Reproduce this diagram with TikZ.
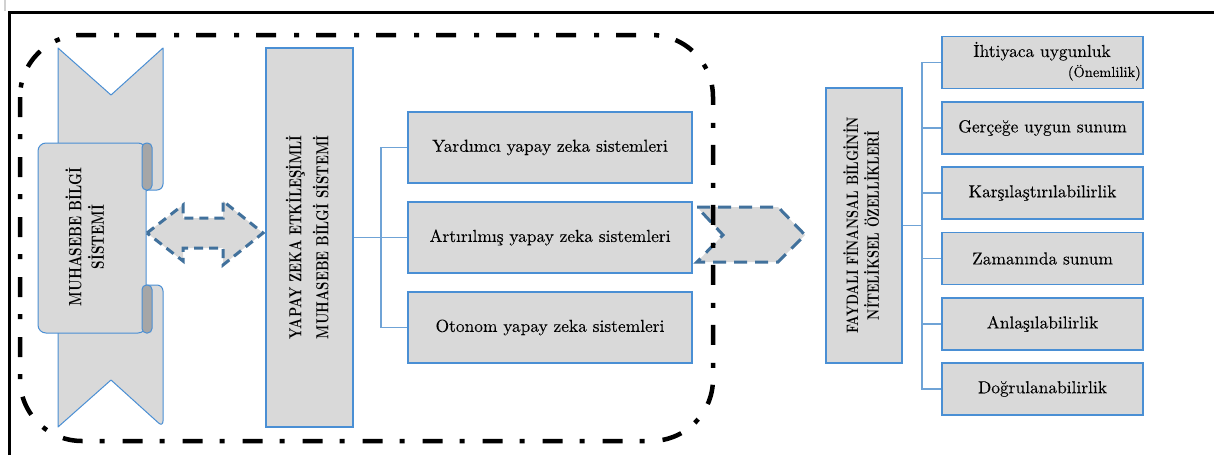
\documentclass[tikz,border=0pt]{standalone}
\usepackage{fontspec}
\newfontfamily\titlefont{lmroman10-regular.otf}[BoldFont=lmroman10-bold.otf, FakeStretch=0.75]
\newfontfamily\bodyfont{lmroman10-regular.otf}[FakeBold=0.12]
\definecolor{boxgray}{HTML}{D9D9D9}
\definecolor{boxblue}{HTML}{4A8FD4}
\definecolor{lineblue}{HTML}{6FA3D6}
\definecolor{arrowblue}{HTML}{41719C}
\definecolor{curlgray}{HTML}{A6A6A6}
\begin{document}
\begin{tikzpicture}[x=1pt,y=-1pt,
  box/.style={draw=boxblue, line width=1.5pt, fill=boxgray, inner sep=0pt},
  sbox/.style={box, minimum width=284pt, minimum height=71pt, font=\bodyfont\fontsize{17.4}{20}\selectfont},
  rbox/.style={box, minimum width=201pt, minimum height=52pt, font=\bodyfont\fontsize{17.4}{20}\selectfont},
  conn/.style={draw=lineblue, line width=1.2pt},
  banner/.style={draw=boxblue, line width=1pt, fill=boxgray, line join=round},
  curl/.style={draw=boxblue, line width=1pt, fill=curlgray},
  dasharrow/.style={draw=arrowblue, line width=3pt, fill=boxgray, dash pattern=on 9pt off 6pt},
  titletext/.style={inner sep=0pt}
]
\useasboundingbox (0,0) rectangle (1214,455);
\fill[white] (0,0) rectangle (1214,455);
% outer frame
\draw[line width=1.5pt, black!18] (5,0) -- (5,11);
\draw[line width=3pt, black] (9,455) -- (9,12) -- (1214,12);

% banner ribbon
\path[banner] (58,48) -- (111,95) -- (163,48)
  [rounded corners=6pt] -- (163,190) -- (143,190) [sharp corners]
  -- (143,285) [rounded corners=6pt] -- (163,285) -- (163,427) [sharp corners]
  -- (111,380) -- (58,427) -- cycle;
\draw[banner, rounded corners=8pt] (38,143) rectangle (146,333);
\draw[curl, rounded corners=4.5pt] (142,143) rectangle (152,190);
\draw[curl, rounded corners=4.5pt] (142,285) rectangle (152,333);
\node[titletext] (mbs) at (88,237) {\rotatebox{90}{\titlefont\bfseries\fontsize{17.8}{22}\selectfont\begin{tabular}{@{}c@{}}MUHASEBE BİLGİ\\SİSTEMİ\end{tabular}}};

% double arrow
\draw[dasharrow] (147,233) -- (183,205) -- (183,218) -- (223,218) -- (223,201)
  -- (263,233) -- (223,265) -- (223,248) -- (183,248) -- (183,261) -- cycle;

% central box
\node[box, minimum width=87pt, minimum height=379pt] (yz) at (309.5,237.5)
  {\rotatebox{90}{\titlefont\bfseries\fontsize{17.4}{27}\selectfont\begin{tabular}{@{}c@{}}YAPAY ZEKA ETKİLEŞİMLİ\\MUHASEBE BİLGİ SİSTEMİ\end{tabular}}};

\node[sbox] (b1) at (550,147.5) {Yardımcı yapay zeka sistemleri};
\node[sbox] (b2) at (550,237.5) {Artırılmış yapay zeka sistemleri};
\node[sbox] (b3) at (550,327.5) {Otonom yapay zeka sistemleri};

\coordinate (j1) at (381,237.5);
\draw[conn] (yz.east) -- (b2.west);
\draw[conn] (b1.west) -| (j1) |- (b3.west);

% chevron
\draw[dasharrow, dash pattern=on 13pt off 8pt] (697,207) -- (778,207) -- (805,235)
  -- (778,262) -- (697,262) -- (723,235) -- cycle;

% dash-dot rounded frame
\draw[black, line width=4.5pt, dash pattern=on 20pt off 17pt on 5pt off 18pt, rounded corners=62pt]
  (20,35) rectangle (713,441);

% right part
\node[box, minimum width=76pt, minimum height=275pt] (f) at (864,225.5)
  {\rotatebox{90}{\titlefont\bfseries\fontsize{16.6}{20}\selectfont\begin{tabular}{@{}c@{}}FAYDALI FİNANSAL BİLGİNİN\\NİTELİKSEL ÖZELLİKLERİ\end{tabular}}};

\node[rbox] (r1) at (1042.5,62.5) {};
\node[anchor=base, inner sep=0pt, font=\bodyfont\fontsize{17.4}{20}\selectfont] (r1a) at (1042,57) {İhtiyaca uygunluk};
\node[anchor=base east, inner sep=0pt, font=\bodyfont\fontsize{14.5}{17}\selectfont] (r1b) at (1141,77) {(Önemlilik)};
\node[rbox] (r2) at (1042.5,128) {Gerçeğe uygun sunum};
\node[rbox] (r3) at (1042.5,193) {Karşılaştırılabilirlik};
\node[rbox] (r4) at (1042.5,258.5) {Zamanında sunum};
\node[rbox] (r5) at (1042.5,324) {Anlaşılabilirlik};
\node[rbox] (r6) at (1042.5,389) {Doğrulanabilirlik};

\coordinate (j2) at (922,225.5);
\draw[conn] (f.east) -- (j2);
\draw[conn] (r1.west) -| (j2) |- (r6.west);
\foreach \n in {r2,r3,r4,r5} \draw[conn] (\n.west) -- (\n.west -| j2);
\end{tikzpicture}
\end{document}
